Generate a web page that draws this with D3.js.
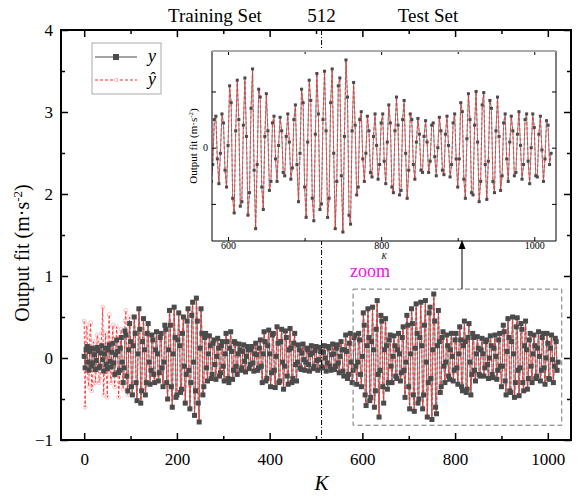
<!DOCTYPE html>
<html><head><meta charset="utf-8">
<script src="https://cdn.jsdelivr.net/npm/d3@7"></script>
<style>
html,body{margin:0;padding:0;background:#fff;}
svg text{font-family:"Liberation Serif","Times New Roman",serif;}
</style></head>
<body><svg id="chart" width="577" height="498"></svg>
<script>
// ---- data ----
const sampleStep = 2;          // K spacing between plotted samples
const splitK = 512;            // training / test boundary
const xTicksMajor = [0,200,400,600,800,1000];
const xTicksMinor = [100,300,500,700,900];
const yTicksMajor = [-1,0,1,2,3,4];
const yTicksMinor = [-0.5,0.5,1.5,2.5,3.5];
const insetXTicksMajor = [600,800,1000];
const insetXTicksMinor = [700,900];
const insetYTicks = [-0.5,0,0.5];
const zoomRange = {k0:580, k1:1030, v0:-0.82, v1:0.84};

// measured output y (K = 0,2,4,...)
const yValues = [
 0.02,-0.12,0.10,0.14,-0.05,-0.15,0.08,0.12,-0.10,-0.06,
 0.11,0.04,-0.14,-0.03,0.13,0.09,-0.12,-0.10,0.06,0.15,
 -0.02,-0.16,0.05,0.12,-0.08,-0.13,0.10,0.16,-0.04,-0.11,
 0.07,0.18,-0.06,-0.20,0.04,0.22,0.08,-0.18,-0.15,0.12,
 0.25,-0.05,-0.30,-0.12,0.33,0.28,-0.22,-0.40,0.10,0.42,
 0.20,-0.35,-0.45,0.15,0.50,0.30,-0.30,-0.52,0.05,0.60,
 0.35,-0.55,-0.40,0.20,0.48,0.10,-0.45,-0.30,0.30,0.42,
 -0.05,-0.32,-0.15,0.28,0.22,-0.20,-0.30,0.10,0.32,0.05,
 -0.28,-0.18,0.25,0.30,-0.12,-0.35,-0.05,0.40,0.35,-0.30,
 -0.50,0.10,0.58,0.40,-0.35,-0.60,0.05,0.62,0.25,-0.48,
 -0.45,0.22,0.55,0.15,-0.42,-0.38,0.30,0.50,-0.10,-0.55,
 -0.20,0.45,0.60,-0.15,-0.62,-0.30,0.52,0.68,-0.05,-0.70,
 -0.40,0.73,0.45,-0.55,-0.78,0.12,0.60,0.30,-0.45,-0.35,
 0.25,0.30,-0.12,-0.28,0.05,0.27,0.15,-0.25,-0.20,0.18,
 0.22,-0.08,-0.26,0.02,0.24,0.12,-0.22,-0.18,0.15,0.20,
 -0.10,-0.28,0.05,0.30,0.20,-0.25,-0.30,0.12,0.32,0.08,
 -0.26,-0.15,0.20,0.18,-0.10,-0.20,0.05,0.17,0.10,-0.15,
 -0.12,0.08,0.16,-0.04,-0.17,0.02,0.14,0.10,-0.13,-0.08,
 0.10,0.14,-0.06,-0.16,0.05,0.18,0.04,-0.15,-0.12,0.12,
 0.22,-0.10,-0.30,0.05,0.32,0.20,-0.28,-0.25,0.15,0.34,
 0.05,-0.35,-0.18,0.28,0.30,-0.15,-0.36,0.02,0.38,0.18,
 -0.30,-0.28,0.20,0.35,-0.05,-0.38,-0.10,0.33,0.25,-0.22,
 -0.32,0.10,0.36,0.12,-0.30,-0.25,0.18,0.30,-0.08,-0.28,
 -0.05,0.16,0.10,-0.12,-0.14,0.06,0.17,-0.02,-0.15,-0.05,
 0.12,0.10,-0.08,-0.16,0.04,0.15,0.06,-0.13,-0.10,0.09,
 0.14,-0.03,-0.15,-0.02,0.13,0.08,-0.11,-0.12,0.07,0.15,
 0.00,-0.16,-0.06,0.14,0.12,-0.10,-0.15,0.04,0.17,0.05,
 -0.14,-0.10,0.12,0.16,-0.06,-0.18,0.02,0.20,0.10,-0.16,
 -0.22,0.10,0.28,0.08,-0.25,-0.20,0.18,0.30,-0.05,-0.30,
 -0.15,0.25,0.28,-0.10,-0.32,-0.05,0.30,0.22,-0.20,-0.35,
 0.02,0.55,0.40,-0.45,-0.58,0.15,0.60,0.25,-0.52,-0.48,
 0.20,0.62,0.10,-0.60,-0.40,0.35,0.70,-0.20,-0.72,-0.15,
 0.52,0.45,-0.35,-0.55,0.10,0.48,0.15,-0.38,-0.30,0.22,
 0.28,-0.10,-0.30,0.02,0.27,0.15,-0.22,-0.25,0.10,0.30,
 0.05,-0.28,-0.18,0.25,0.38,-0.15,-0.48,-0.05,0.52,0.40,
 -0.35,-0.62,0.05,0.60,0.42,-0.45,-0.65,0.12,0.66,0.30,
 -0.55,-0.50,0.25,0.68,0.15,-0.62,-0.45,0.40,0.70,-0.05,
 -0.72,-0.30,0.55,0.62,-0.25,-0.75,0.10,0.78,0.45,-0.60,
 -0.68,0.15,0.58,0.20,-0.42,-0.35,0.25,0.32,-0.10,-0.30,
 -0.05,0.28,0.15,-0.22,-0.26,0.10,0.30,0.02,-0.28,-0.15,
 0.22,0.30,-0.12,-0.32,0.05,0.38,0.22,-0.35,-0.40,0.15,
 0.45,0.20,-0.42,-0.38,0.25,0.42,-0.05,-0.45,-0.20,0.30,
 0.25,-0.15,-0.28,0.05,0.26,0.12,-0.20,-0.22,0.10,0.24,
 0.05,-0.22,-0.12,0.20,0.22,-0.08,-0.25,0.00,0.27,0.15,
 -0.20,-0.24,0.12,0.28,0.02,-0.26,-0.15,0.22,0.30,-0.10,
 -0.35,-0.10,0.40,0.32,-0.28,-0.45,0.08,0.48,0.25,-0.40,
 -0.42,0.20,0.50,0.05,-0.48,-0.30,0.38,0.49,-0.15,-0.46,
 -0.12,0.42,0.35,-0.30,-0.40,0.15,0.45,0.10,-0.38,-0.25,
 0.22,0.30,-0.10,-0.30,0.05,0.28,0.15,-0.25,-0.22,0.12,
 0.32,0.02,-0.28,-0.15,0.25,0.30,-0.12,-0.32,0.00,0.30,
 0.18,-0.25,-0.26,0.12,0.28,-0.02,-0.30,-0.10,0.24,0.20,
 -0.15,-0.05
];
// model output ŷ for the start of training, where it visibly departs from y (K = 0..98)
const yHatStart = [
 0.45,-0.60,0.30,0.40,-0.25,-0.35,0.25,0.43,-0.40,-0.32,
 0.20,0.10,-0.30,-0.15,0.28,0.22,-0.30,-0.25,0.15,0.30,
 0.62,-0.45,-0.10,0.30,-0.20,-0.48,0.25,0.53,-0.15,-0.30,
 0.15,0.40,-0.20,-0.35,0.10,0.38,0.15,-0.48,-0.30,0.25,
 0.35,-0.10,-0.38,-0.20,0.45,0.58,-0.30,-0.45,0.15,0.50
];

// ---- build series ----
const seriesY = yValues.map((v,i)=>({k:i*sampleStep, v}));
const seriesYHat = yValues.map((v,i)=>({k:i*sampleStep, v: i<yHatStart.length ? yHatStart[i] : v}));

const svg = d3.select("#chart");
const M = {l:61, r:571, t:30, b:440};
const x = d3.scaleLinear([-50,1050],[M.l,M.r]);
const y = d3.scaleLinear([-1,4],[M.b,M.t]);

const cY = "#4b4b4b", cLineY="#707070", cHat="#ff2a2a";

svg.append("clipPath").attr("id","mainclip").append("rect")
  .attr("x",M.l).attr("y",M.t).attr("width",M.r-M.l).attr("height",M.b-M.t);

const plot = svg.append("g").attr("clip-path","url(#mainclip)");

function drawSeries(g, xs, ys, sq, cr, lw){
  const line = d3.line().x(d=>xs(d.k)).y(d=>ys(d.v));
  g.append("path").datum(seriesY).attr("d",line).attr("fill","none")
    .attr("stroke",cLineY).attr("stroke-width",lw);
  g.append("path").datum(seriesYHat).attr("d",line).attr("fill","none")
    .attr("stroke",cHat).attr("stroke-width",lw).attr("stroke-dasharray","3,2");
  g.selectAll(null).data(seriesYHat).enter().append("circle")
    .attr("cx",d=>xs(d.k)).attr("cy",d=>ys(d.v)).attr("r",cr)
    .attr("fill","none").attr("stroke","#ff9a9a").attr("stroke-width",0.6);
  g.selectAll(null).data(seriesY).enter().append("rect")
    .attr("x",d=>xs(d.k)-sq/2).attr("y",d=>ys(d.v)-sq/2).attr("width",sq).attr("height",sq)
    .attr("fill",cY);
}
drawSeries(plot, x, y, 5, 2, 0.9);

// split line
svg.append("line").attr("x1",x(splitK)).attr("x2",x(splitK)).attr("y1",M.t).attr("y2",M.b)
  .attr("stroke","#000").attr("stroke-width",1).attr("stroke-dasharray","5,2,1,2");

// zoom box
svg.append("rect").attr("x",x(zoomRange.k0)).attr("y",y(zoomRange.v1))
  .attr("width",x(zoomRange.k1)-x(zoomRange.k0)).attr("height",y(zoomRange.v0)-y(zoomRange.v1))
  .attr("fill","none").attr("stroke","#777").attr("stroke-width",1).attr("stroke-dasharray","5,3");

// axes
function styleAxis(g){ g.select(".domain").remove(); g.selectAll("line").attr("stroke","#000").attr("stroke-width",1.5);
  g.selectAll("text").attr("fill","#000").style("font-family","Liberation Serif, serif"); }
svg.append("g").attr("transform",`translate(0,${M.b})`)
  .call(d3.axisBottom(x).tickValues(xTicksMajor).tickSize(-7).tickPadding(13).tickFormat(d3.format("d")))
  .call(styleAxis).selectAll("text").style("font-size","17px");
svg.append("g").attr("transform",`translate(0,${M.b})`)
  .call(d3.axisBottom(x).tickValues(xTicksMinor).tickSize(-4).tickFormat("")).call(styleAxis);
svg.append("g").attr("transform",`translate(0,${M.t})`)
  .call(d3.axisTop(x).tickValues(xTicksMajor).tickSize(-7).tickFormat("")).call(styleAxis);
svg.append("g").attr("transform",`translate(0,${M.t})`)
  .call(d3.axisTop(x).tickValues(xTicksMinor).tickSize(-4).tickFormat("")).call(styleAxis);
svg.append("g").attr("transform",`translate(${M.l},0)`)
  .call(d3.axisLeft(y).tickValues(yTicksMajor).tickSize(-7).tickPadding(8).tickFormat(d3.format("d")))
  .call(styleAxis).selectAll("text").style("font-size","17px");
svg.append("g").attr("transform",`translate(${M.l},0)`)
  .call(d3.axisLeft(y).tickValues(yTicksMinor).tickSize(-4).tickFormat("")).call(styleAxis);
svg.append("g").attr("transform",`translate(${M.r},0)`)
  .call(d3.axisRight(y).tickValues(yTicksMajor).tickSize(-7).tickFormat("")).call(styleAxis);
svg.append("g").attr("transform",`translate(${M.r},0)`)
  .call(d3.axisRight(y).tickValues(yTicksMinor).tickSize(-4).tickFormat("")).call(styleAxis);
svg.append("rect").attr("x",M.l).attr("y",M.t).attr("width",M.r-M.l).attr("height",M.b-M.t)
  .attr("fill","none").attr("stroke","#000").attr("stroke-width",2);

// titles
svg.append("text").attr("x",x(splitK)).attr("y",490).attr("text-anchor","middle")
  .style("font-size","21px").style("font-style","italic").text("K");
const yt = svg.append("text").attr("transform",`translate(29,${(M.t+M.b)/2+18}) rotate(-90)`)
  .attr("text-anchor","middle").style("font-size","20px");
yt.append("tspan").text("Output fit (m·s");
yt.append("tspan").attr("dy",-7).style("font-size","13px").text("-2");
yt.append("tspan").attr("dy",7).text(")");

svg.append("text").attr("x",215).attr("y",22).attr("text-anchor","middle").style("font-size","19px").text("Training Set");
svg.append("text").attr("x",x(splitK)).attr("y",22).attr("text-anchor","middle").style("font-size","19px").text("512");
svg.append("text").attr("x",428).attr("y",22).attr("text-anchor","middle").style("font-size","19px").text("Test Set");

// legend
const lg = svg.append("g");
lg.append("rect").attr("x",92).attr("y",43).attr("width",69).attr("height",51)
  .attr("fill","#fff").attr("stroke","#aaa").attr("stroke-width",1);
lg.append("line").attr("x1",95).attr("x2",137).attr("y1",57).attr("y2",57).attr("stroke",cY).attr("stroke-width",1);
lg.append("rect").attr("x",113).attr("y",54).attr("width",6).attr("height",6).attr("fill",cY);
lg.append("text").attr("x",148).attr("y",62).style("font-size","18px").style("font-style","italic").text("y");
lg.append("line").attr("x1",95).attr("x2",137).attr("y1",80).attr("y2",80).attr("stroke",cHat).attr("stroke-width",1).attr("stroke-dasharray","3,2");
lg.append("circle").attr("cx",116).attr("cy",80).attr("r",1.8).attr("fill","#fff").attr("stroke","#ff9a9a").attr("stroke-width",0.7);
lg.append("text").attr("x",148).attr("y",85).style("font-size","18px").style("font-style","italic").text("ŷ");

// inset
const I = {l:212, r:556, t:51, b:241};
const ix = d3.scaleLinear([579,1028.4],[I.l,I.r]);
const iy = d3.scaleLinear([-0.83,0.86],[I.b,I.t]);
svg.append("rect").attr("x",I.l).attr("y",I.t).attr("width",I.r-I.l).attr("height",I.b-I.t).attr("fill","#fff");
svg.append("clipPath").attr("id","insclip").append("rect")
  .attr("x",I.l).attr("y",I.t).attr("width",I.r-I.l).attr("height",I.b-I.t);
const ig = svg.append("g").attr("clip-path","url(#insclip)");
drawSeries(ig, ix, iy, 3, 1.2, 0.8);

function styleI(g){ g.select(".domain").remove(); g.selectAll("line").attr("stroke","#000").attr("stroke-width",1);
  g.selectAll("text").attr("fill","#000").style("font-family","Liberation Serif, serif").style("font-size","10px"); }
svg.append("g").attr("transform",`translate(0,${I.b})`)
  .call(d3.axisBottom(ix).tickValues(insetXTicksMajor).tickSize(-4).tickPadding(1).tickFormat(d3.format("d"))).call(styleI);
svg.append("g").attr("transform",`translate(0,${I.b})`)
  .call(d3.axisBottom(ix).tickValues(insetXTicksMinor).tickSize(-3).tickFormat("")).call(styleI);
svg.append("g").attr("transform",`translate(0,${I.t})`)
  .call(d3.axisTop(ix).tickValues(insetXTicksMajor).tickSize(-4).tickFormat("")).call(styleI);
svg.append("g").attr("transform",`translate(0,${I.t})`)
  .call(d3.axisTop(ix).tickValues(insetXTicksMinor).tickSize(-3).tickFormat("")).call(styleI);
svg.append("g").attr("transform",`translate(${I.l},0)`)
  .call(d3.axisLeft(iy).tickValues(insetYTicks).tickSize(-4).tickPadding(4).tickFormat(d=>d===0?"0":"")).call(styleI);
svg.append("g").attr("transform",`translate(${I.r},0)`)
  .call(d3.axisRight(iy).tickValues(insetYTicks).tickSize(-4).tickFormat("")).call(styleI);
svg.append("line").attr("x1",I.l).attr("x2",I.l).attr("y1",I.t).attr("y2",I.b).attr("stroke","#000").attr("stroke-width",1);
svg.append("line").attr("x1",I.r).attr("x2",I.r).attr("y1",I.t).attr("y2",I.b).attr("stroke","#000").attr("stroke-width",1);
svg.append("line").attr("x1",I.l).attr("x2",I.r).attr("y1",I.b).attr("y2",I.b).attr("stroke","#000").attr("stroke-width",1);
svg.append("line").attr("x1",I.l).attr("x2",I.r).attr("y1",I.t).attr("y2",I.t).attr("stroke","#aaa").attr("stroke-width",2);

const iyt = svg.append("text").attr("transform",`translate(197,${(I.t+I.b)/2}) rotate(-90)`)
  .attr("text-anchor","middle").style("font-size","11px");
iyt.append("tspan").text("Output fit (m·s");
iyt.append("tspan").attr("dy",-4).style("font-size","7px").text("-2");
iyt.append("tspan").attr("dy",4).text(")");
svg.append("text").attr("x",ix(800)+3).attr("y",259).attr("text-anchor","middle")
  .style("font-size","8px").style("font-style","italic").text("K");

// arrow from zoom box to inset
const ax = 462;
svg.append("line").attr("x1",ax).attr("x2",ax).attr("y1",y(zoomRange.v1)).attr("y2",I.b+6)
  .attr("stroke","#000").attr("stroke-width",1);
svg.append("path").attr("d",`M${ax},${I.b-1} L${ax-3.5},${I.b+8} L${ax+3.5},${I.b+8} Z`).attr("fill","#000");

svg.append("text").attr("x",350).attr("y",277).style("font-size","18px").attr("fill","#e020e0").text("zoom");
</script>
</body></html>
